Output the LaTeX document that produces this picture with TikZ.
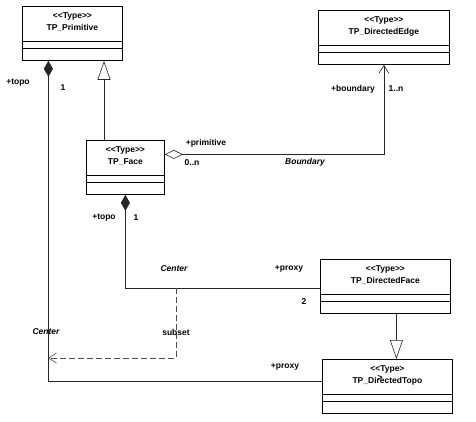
\documentclass[tikz,border=0pt]{standalone}
\usepackage{fontspec}
\setmainfont{Liberation Sans}
\usetikzlibrary{arrows.meta}
\tikzset{
  x=1pt, y=-1pt,
  classbox/.style={draw, line width=0.8pt, fill=white, inner sep=0pt, anchor=north west, minimum height=54pt},
  lbl/.style={font=\bfseries\fontsize{8.5}{10}\selectfont, inner sep=1pt},
  ilbl/.style={font=\bfseries\itshape\fontsize{8.5}{10}\selectfont, inner sep=1pt},
  conn/.style={line width=0.6pt, draw=black!85},
  dconn/.style={line width=0.6pt, draw=black!70, dash pattern=on 6pt off 3pt},
  gen/.style={-{Triangle[open,length=19pt,width=13pt,fill=white]}},
  comp/.style={{Diamond[length=16pt,width=9pt]}-},
  aggrnav/.style={{Diamond[open,length=18pt,width=9pt,fill=white]}-{Straight Barb[length=8pt,width=10pt]}},
  nav/.style={-{Straight Barb[length=8pt,width=10pt]}},
}
\newcommand\umlclass[6]{%
  \node[classbox, minimum width=#4pt] (#1) at (#2,#3) {};
  \draw[line width=0.8pt] ([yshift=-35pt]#1.north west) -- ([yshift=-35pt]#1.north east);
  \draw[line width=0.8pt] ([yshift=-42pt]#1.north west) -- ([yshift=-42pt]#1.north east);
  \node[lbl] (#1-s) at ([yshift=-10pt]#1.north) {#5};
  \node[lbl] (#1-n) at ([yshift=-22pt]#1.north) {#6};
}
\begin{document}
\begin{tikzpicture}
\useasboundingbox[fill=white] (0,0) rectangle (476,422);

% connectors first (behind boxes)
\coordinate (sA) at (176,288);
\coordinate (sB) at (48,358);

\umlclass{prim}{22}{6}{100}{<\kern0pt<Type>\kern0pt>}{TP\_Primitive}
\umlclass{edge}{318}{10}{131}{<\kern0pt<Type>\kern0pt>}{TP\_DirectedEdge}
\umlclass{face}{86}{140}{78}{<\kern0pt<Type>\kern0pt>}{TP\_Face}
\umlclass{dface}{320}{259}{130}{<\kern0pt<Type>\kern0pt>}{TP\_DirectedFace}
\umlclass{dtopo}{322}{359}{130}{<\kern0pt<Type>}{TP\_DirectedTopo}
\node[lbl] (stray) at (380,378) {>};

% TP_Primitive composition -> TP_DirectedTopo
\draw[conn, comp] ([xshift=-24pt]prim.south) |- ([yshift=5pt]dtopo.west);
% TP_Face generalization -> TP_Primitive
\draw[conn, gen] ([xshift=18pt]face.north west) -- ([xshift=18pt]face.north west |- prim.south);
% Boundary association
\draw[conn, aggrnav] ([yshift=13pt]face.east) -| (edge.south);
% TP_Face composition -> TP_DirectedFace
\draw[conn, comp] (face.south) |- ([yshift=-2pt]dface.west);
% subset dependency
\draw[dconn, nav] (sA) |- (sB);
% TP_DirectedFace generalization -> TP_DirectedTopo
\draw[conn, gen] ([xshift=11pt]dface.south) -- ([xshift=11pt]dface.south |- dtopo.north);

% labels
\node[lbl] (l1) at (18,83) {+topo};
\node[lbl] (l2) at (63,88) {1};
\node[lbl] (l3) at (206,143) {+primitive};
\node[lbl] (l4) at (192,163) {0..n};
\node[ilbl] (l5) at (305,162) {Boundary};
\node[lbl] (l6) at (353,89) {+boundary};
\node[lbl] (l7) at (396,89) {1..n};
\node[lbl] (l8) at (104,218) {+topo};
\node[lbl] (l9) at (136,218) {1};
\node[ilbl] (l10) at (174,269) {Center};
\node[lbl] (l11) at (289,269) {+proxy};
\node[lbl] (l12) at (304,302) {2};
\node[ilbl] (l13) at (46,332) {Center};
\node[lbl] (l14) at (176,332) {subset};
\node[lbl] (l15) at (285,367) {+proxy};
\end{tikzpicture}
\end{document}
